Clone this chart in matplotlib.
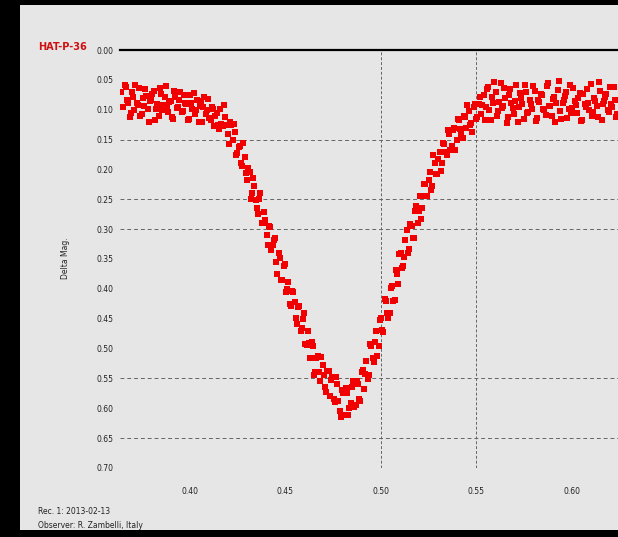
import matplotlib.pyplot as plt
from matplotlib.patches import Rectangle

# observation times (fraction of day) and relative magnitude (mmag), two interleaved exposure sets
times_1 = [
    0.3640, 0.3652, 0.3665, 0.3677, 0.3690, 0.3703, 0.3715, 0.3728, 0.3741, 0.3753,
    0.3766, 0.3779, 0.3791, 0.3804, 0.3817, 0.3829, 0.3842, 0.3855, 0.3867, 0.3880,
    0.3893, 0.3905, 0.3918, 0.3931, 0.3943, 0.3956, 0.3969, 0.3981, 0.3994, 0.4007,
    0.4019, 0.4032, 0.4045, 0.4057, 0.4070, 0.4083, 0.4095, 0.4108, 0.4121, 0.4133,
    0.4146,
    0.4159, 0.4172, 0.4185, 0.4197, 0.4210, 0.4223, 0.4236, 0.4248, 0.4261, 0.4274,
    0.4287, 0.4299, 0.4312, 0.4325, 0.4338, 0.4350, 0.4363, 0.4376, 0.4389, 0.4401,
    0.4414, 0.4427, 0.4440, 0.4452, 0.4465, 0.4478, 0.4491, 0.4503, 0.4516, 0.4529,
    0.4542, 0.4554, 0.4567, 0.4580, 0.4593, 0.4605, 0.4618, 0.4631, 0.4644, 0.4656,
    0.4669, 0.4682, 0.4695, 0.4707, 0.4720, 0.4733, 0.4746, 0.4759, 0.4771, 0.4784,
    0.4797,
    0.4810, 0.4822, 0.4835, 0.4848, 0.4861, 0.4873, 0.4886, 0.4899, 0.4911, 0.4924,
    0.4937, 0.4950, 0.4962, 0.4975, 0.4988, 0.5001, 0.5013, 0.5026, 0.5039, 0.5052,
    0.5064, 0.5077, 0.5090, 0.5103, 0.5115, 0.5128, 0.5141, 0.5154, 0.5166, 0.5179,
    0.5192, 0.5205, 0.5217, 0.5230, 0.5243, 0.5256, 0.5268, 0.5281, 0.5294, 0.5307,
    0.5319, 0.5332, 0.5345, 0.5358, 0.5370, 0.5383, 0.5396, 0.5409, 0.5421, 0.5434,
    0.5447, 0.5460, 0.5472, 0.5485, 0.5498, 0.5511,
    0.5524, 0.5537, 0.5549, 0.5562, 0.5575, 0.5588, 0.5600, 0.5613, 0.5626, 0.5639,
    0.5651, 0.5664, 0.5677, 0.5690, 0.5702, 0.5715, 0.5728, 0.5741, 0.5753, 0.5766,
    0.5779, 0.5792, 0.5804, 0.5817, 0.5830, 0.5843, 0.5855, 0.5868, 0.5881, 0.5894,
    0.5906, 0.5919, 0.5932, 0.5945, 0.5957, 0.5970, 0.5983, 0.5996, 0.6008, 0.6021,
    0.6034, 0.6047, 0.6059, 0.6072, 0.6085, 0.6098, 0.6110, 0.6123, 0.6136, 0.6149,
    0.6161, 0.6174, 0.6187, 0.6200, 0.6212, 0.6225, 0.6238,
]
mmag_1 = [
    70, 95, 62, 88, 105, 78, 58, 92, 110, 81,
    66, 99, 85, 73, 118, 90, 64, 101, 79, 94,
    87, 112, 69, 97, 83, 104, 76, 91, 115, 88,
    72, 100, 120, 86, 95, 108, 82, 117, 99, 111,
    125,
    98, 128, 112, 140, 121, 150, 138, 172, 160, 195,
    180, 218, 205, 240, 228, 265, 250, 290, 272, 310,
    295, 335, 318, 355, 340, 385, 362, 405, 388, 428,
    405, 448, 430, 470, 450, 492, 470, 515, 495, 540,
    512, 555, 528, 565, 538, 580, 548, 590, 560, 605,
    570,
    612, 575, 600, 565, 598, 555, 585, 540, 568, 520,
    545, 495, 522, 470, 495, 448, 472, 420, 448, 398,
    420, 368, 392, 340, 362, 318, 340, 292, 315, 270,
    290, 245, 265, 225, 245, 205, 228, 190, 208, 170,
    190, 158, 175, 140, 160, 130, 150, 118, 140, 110,
    130, 102, 122, 96, 115, 90,
    108, 75, 95, 62, 118, 88, 70, 102, 55, 93,
    80, 112, 66, 97, 85, 120, 72, 90, 58, 105,
    83, 99, 68, 114, 87, 76, 101, 60, 94, 110,
    79, 89, 52, 116, 84, 71, 98, 106, 64, 92,
    81, 119, 74, 96, 88, 57, 103, 86, 113, 69,
    91, 78, 100, 62, 95, 84, 107,
]
times_2 = [
    0.3646, 0.3658, 0.3671, 0.3684, 0.3696, 0.3709, 0.3722, 0.3734, 0.3747, 0.3760,
    0.3772, 0.3785, 0.3798, 0.3810, 0.3823, 0.3836, 0.3848, 0.3861, 0.3874, 0.3886,
    0.3899, 0.3912, 0.3924, 0.3937, 0.3950, 0.3962, 0.3975, 0.3988, 0.4000, 0.4013,
    0.4026, 0.4038, 0.4051, 0.4064, 0.4076, 0.4089, 0.4102, 0.4114, 0.4127, 0.4140,
    0.4152,
    0.4165, 0.4178, 0.4191, 0.4204, 0.4216, 0.4229, 0.4242, 0.4255, 0.4267, 0.4280,
    0.4293, 0.4305, 0.4318, 0.4331, 0.4344, 0.4356, 0.4369, 0.4382, 0.4395, 0.4407,
    0.4420, 0.4433, 0.4446, 0.4458, 0.4471, 0.4484, 0.4497, 0.4509, 0.4522, 0.4535,
    0.4548, 0.4560, 0.4573, 0.4586, 0.4599, 0.4611, 0.4624, 0.4637, 0.4650, 0.4662,
    0.4675, 0.4688, 0.4701, 0.4713, 0.4726, 0.4739, 0.4752, 0.4764, 0.4777, 0.4790,
    0.4803,
    0.4816, 0.4829, 0.4842, 0.4854, 0.4867, 0.4880, 0.4892, 0.4905, 0.4918, 0.4930,
    0.4943, 0.4956, 0.4969, 0.4981, 0.4994, 0.5007, 0.5020, 0.5032, 0.5045, 0.5058,
    0.5071, 0.5083, 0.5096, 0.5109, 0.5122, 0.5134, 0.5147, 0.5160, 0.5172, 0.5185,
    0.5198, 0.5211, 0.5223, 0.5236, 0.5249, 0.5261, 0.5274, 0.5287, 0.5300, 0.5312,
    0.5325, 0.5338, 0.5351, 0.5363, 0.5376, 0.5389, 0.5402, 0.5414, 0.5427, 0.5440,
    0.5453, 0.5465, 0.5478, 0.5491, 0.5504, 0.5517,
    0.5530, 0.5543, 0.5556, 0.5568, 0.5581, 0.5594, 0.5607, 0.5619, 0.5632, 0.5645,
    0.5658, 0.5670, 0.5683, 0.5696, 0.5709, 0.5721, 0.5734, 0.5747, 0.5760, 0.5772,
    0.5785, 0.5798, 0.5811, 0.5823, 0.5836, 0.5849, 0.5862, 0.5874, 0.5887, 0.5900,
    0.5913, 0.5925, 0.5938, 0.5951, 0.5964, 0.5976, 0.5989, 0.6002, 0.6015, 0.6027,
    0.6040, 0.6053, 0.6066, 0.6078, 0.6091, 0.6104, 0.6117, 0.6129, 0.6142, 0.6155,
    0.6168, 0.6180, 0.6193, 0.6206, 0.6219, 0.6231,
]
mmag_2 = [
    96, 59, 84, 112, 71, 100, 88, 63, 107, 94,
    77, 120, 83, 68, 99, 110, 74, 92, 61, 104,
    86, 115, 79, 95, 70, 102, 89, 118, 76, 98,
    107, 84, 93, 121, 79, 100, 114, 95, 128, 106,
    132,
    124, 92, 125, 158, 125, 124, 175, 162, 190, 156,
    206, 198, 249, 214, 252, 275, 240, 290, 285, 326,
    297, 326, 314, 375, 349, 386, 359, 401, 425, 403,
    422, 459, 428, 465, 440, 494, 491, 489, 544, 516,
    540, 514, 545, 573, 537, 553, 585, 547, 588, 615,
    574,
    566, 611, 591, 555, 594, 560, 588, 536, 542, 551,
    493, 516, 489, 512, 452, 469, 417, 440, 441, 395,
    418, 375, 341, 365, 347, 301, 334, 294, 314, 262,
    269, 283, 224, 245, 217, 235, 176, 207, 182, 202,
    156, 171, 134, 167, 134, 167, 115, 133, 147, 113,
    92, 125, 138, 90, 112, 79,
    92, 118, 66, 101, 79, 54, 110, 87, 97, 63,
    122, 75, 89, 108, 58, 96, 81, 115, 70, 103,
    91, 61, 119, 84, 74, 99, 109, 56, 93, 82,
    121, 67, 102, 88, 77, 114, 59, 97, 85, 106,
    72, 117, 90, 65, 100, 111, 80, 94, 53, 118,
    86, 73, 104, 91, 62, 112,
]

x_ticks = [0.40, 0.45, 0.50, 0.55, 0.60]
y_ticks = [0.00, 0.05, 0.10, 0.15, 0.20, 0.25, 0.30, 0.35,
           0.40, 0.45, 0.50, 0.55, 0.60, 0.65, 0.70]
x_grid = [0.50, 0.55]
y_grid = [0.15, 0.25, 0.30, 0.55, 0.65, 0.70]

title = "HAT-P-36"
ylabel = "Delta Mag."
footer = ["Rec. 1: 2013-02-13", "Observer: R. Zambelli, Italy"]

W, H = 618, 537
fig = plt.figure(figsize=(W / 100, H / 100), dpi=100, facecolor="black")
fig.patches.append(Rectangle((20 / W, 7 / H), 598 / W, 525 / H,
                             transform=fig.transFigure, facecolor="#e6e6e6",
                             edgecolor="none", zorder=-10))

ax = fig.add_axes([120 / W, (H - 468) / H, 1 - 120 / W, 418 / H])
ax.set_zorder(1)
ax.patch.set_alpha(0)

for t, m in [(times_1, mmag_1), (times_2, mmag_2)]:
    ax.scatter(t, [v / 1000 for v in m], s=24, marker="s", color="#f00000",
               linewidths=0, zorder=3)

ax.set_xlim(0.3634, 0.6241)
ax.set_ylim(0.70, 0.0)

for v in y_grid:
    ax.axhline(v, color="#666666", lw=0.7, ls=(0, (4, 3)), zorder=1)
for v in x_grid:
    ax.axvline(v, color="#666666", lw=0.7, ls=(0, (3, 2)), zorder=1)

for s in ["left", "right", "bottom"]:
    ax.spines[s].set_visible(False)
ax.spines["top"].set_linewidth(1.6)
ax.spines["top"].set_color("black")

ax.set_xticks(x_ticks)
ax.set_xticklabels([f"{v:.2f}" for v in x_ticks])
ax.set_yticks(y_ticks)
ax.set_yticklabels([f"{v:.2f}" for v in y_ticks])
ax.tick_params(axis="both", length=0, labelsize=5.5, colors="#222222")
ax.tick_params(axis="x", pad=14)
ax.tick_params(axis="y", pad=5)

fig.text(38 / W, 1 - 47 / H, title, color="#d01010", fontsize=7,
         fontweight="bold", va="center", ha="left")
fig.text(66 / W, 1 - 258 / H, ylabel, rotation=90, fontsize=5.5,
         va="center", ha="center", color="#222222")
fig.text(38 / W, 1 - 511 / H, footer[0], fontsize=5.5, va="center", color="#222222")
fig.text(38 / W, 1 - 525 / H, footer[1], fontsize=5.5, va="center", color="#222222")

plt.savefig("out.png", dpi=100, facecolor="black")
